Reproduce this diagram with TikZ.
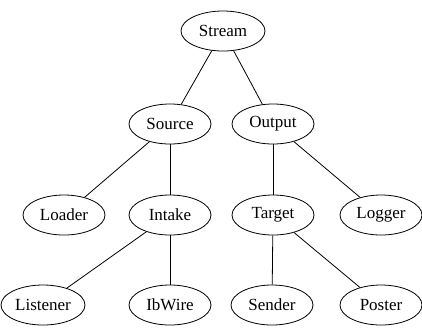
\documentclass[tikz,border=0pt]{standalone}
\usepackage{fontspec}
\setmainfont{Liberation Serif}
\usetikzlibrary{shapes.geometric}
\begin{document}
\begin{tikzpicture}[x=1pt,y=-1pt,
  nd/.style={draw,ellipse,line width=0.8pt,minimum width=82pt,minimum height=40pt,inner sep=0pt,font=\fontsize{17pt}{19pt}\selectfont},
  ed/.style={line width=0.8pt}]
\useasboundingbox (0,0) rectangle (422,333);
\node[nd,minimum width=84pt] (stream) at (223,31) {Stream};
\node[nd] (source) at (170,124) {Source};
\node[nd] (output) at (273,124) {Output};
\node[nd] (loader) at (64,215) {Loader};
\node[nd] (intake) at (170,215) {Intake};
\node[nd] (target) at (273,215) {Target};
\node[nd] (logger) at (381,215) {Logger};
\node[nd,minimum width=84pt] (listener) at (43,305) {Listener};
\node[nd] (ibwire) at (170,305) {IbWire};
\node[nd] (sender) at (272,305) {Sender};
\node[nd] (poster) at (381,305) {Poster};
\draw[ed] (stream) -- (source);
\draw[ed] (stream) -- (output);
\draw[ed] (source) -- (loader);
\draw[ed] (source) -- (intake);
\draw[ed] (output) -- (target);
\draw[ed] (output) -- (logger);
\draw[ed] (intake) -- (listener);
\draw[ed] (intake) -- (ibwire);
\draw[ed] (target) -- (sender);
\draw[ed] (target) -- (poster);
\end{tikzpicture}
\end{document}
